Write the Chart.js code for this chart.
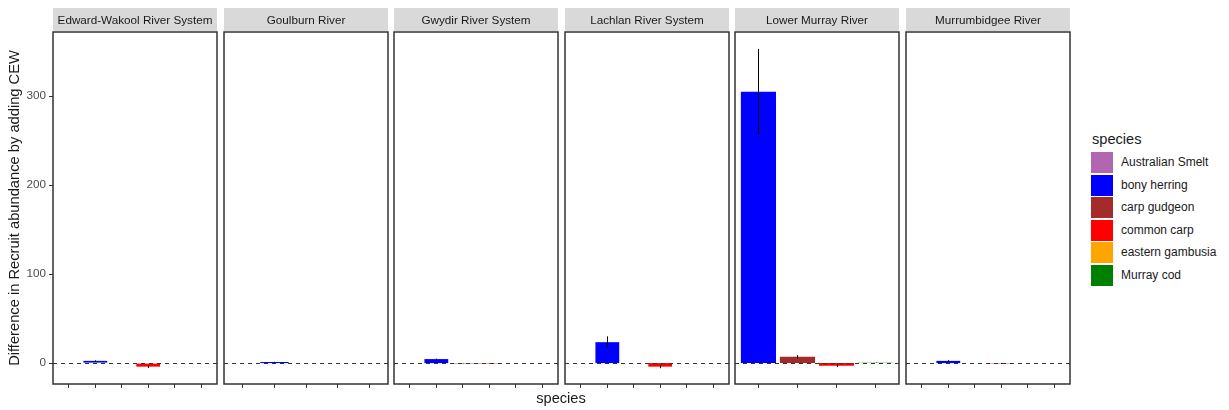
<!DOCTYPE html>
<html>
<head>
<meta charset="utf-8">
<script src="https://cdn.jsdelivr.net/npm/chart.js@4.4.1/dist/chart.umd.min.js"></script>
<style>
  body { margin: 0; background: #fff; font-family: "Liberation Sans", Arial, sans-serif; }
  #wrap { position: relative; width: 1229px; height: 410px; overflow: hidden; }
  canvas { position: absolute; top: 8px; }
  .xtitle { position: absolute; left: 461px; width: 200px; top: 390px; text-align: center; font-size: 14.6px; color: #1a1a1a; }
  .legtitle { position: absolute; left: 1092px; top: 131px; font-size: 14.6px; color: #1a1a1a; }
  .key { position: absolute; left: 1091px; width: 22px; height: 21px; }
  .keylab { position: absolute; left: 1121px; font-size: 12px; color: #1a1a1a; line-height: 21px; }
</style>
</head>
<body>
<div id="wrap"></div>
<script>
const rivers = ['Edward-Wakool River System', 'Goulburn River', 'Gwydir River System', 'Lachlan River System', 'Lower Murray River', 'Murrumbidgee River'];
const species = ['Australian Smelt', 'bony herring', 'carp gudgeon', 'common carp', 'eastern gambusia', 'Murray cod'];
const speciesColours = ['#b266b2', '#0000ff', '#a52a2a', '#ff0000', '#ffa500', '#008000'];

// species sampled in each river (index into species)
const riverSpecies = [
  [0, 1, 2, 3, 4, 5],
  [0, 1, 2, 3, 5],
  [0, 1, 2, 3, 4, 5],
  [0, 1, 2, 3, 4, 5],
  [1, 2, 3, 5],
  [0, 1, 2, 3, 4, 5]
];
// mean difference in recruit abundance with CEW
const riverValues = [
  [0, 2.5, 0, -4, 0, 0],
  [0, 1.2, 0, 0, 0],
  [0, 4.5, -0.4, -0.4, 0, 0],
  [0, 23.5, 0, -4, 0, 0],
  [305, 7, -3, 0.4],
  [0, 2.5, 0, -0.4, 0, 0]
];
// standard errors
const riverErrors = [
  [0, 0.6, 0, 1.5, 0, 0],
  [0, 0.3, 0, 0, 0],
  [0, 0.5, 0.2, 0.3, 0, 0],
  [0, 6.5, 0, 1.8, 0, 0],
  [48, 2, 1.5, 0.2],
  [0, 0.8, 0, 0.5, 0, 0]
];
const yTicks = [0, 100, 200, 300];

const panelLefts = [53, 224, 394, 565, 735, 906];
const panelW = 164;
const wrap = document.getElementById('wrap');

// grey facet strip + panel frame + zero line + error bars
const facetPlugin = {
  id: 'facet',
  beforeDraw(chart) {
    const a = chart.chartArea, c = chart.ctx;
    c.save();
    c.fillStyle = '#d9d9d9';
    c.fillRect(a.left, 0, a.right - a.left, a.top - 1);
    c.fillStyle = '#1a1a1a';
    c.font = '11.7px "Liberation Sans", Arial, sans-serif';
    c.textAlign = 'center';
    c.textBaseline = 'middle';
    c.fillText(chart.options.plugins.facet.label, (a.left + a.right) / 2, (a.top - 1) / 2 + 1);
    c.restore();
  },
  afterDatasetsDraw(chart) {
    const a = chart.chartArea, c = chart.ctx, y = chart.scales.y;
    const errs = chart.options.plugins.facet.errors;
    const ds = chart.data.datasets[0].data;
    c.save();
    c.strokeStyle = '#000';
    c.lineWidth = 1;
    chart.getDatasetMeta(0).data.forEach((bar, j) => {
      if (!errs[j]) return;
      c.beginPath();
      c.moveTo(Math.round(bar.x) + 0.5, y.getPixelForValue(ds[j].y - errs[j]));
      c.lineTo(Math.round(bar.x) + 0.5, y.getPixelForValue(ds[j].y + errs[j]));
      c.stroke();
    });
    const y0 = Math.round(y.getPixelForValue(0)) + 0.5;
    c.strokeStyle = '#333';
    c.setLineDash([4, 4]);
    c.beginPath();
    c.moveTo(a.left, y0);
    c.lineTo(a.right, y0);
    c.stroke();
    c.restore();
  },
  afterDraw(chart) {
    const a = chart.chartArea, c = chart.ctx;
    c.save();
    c.strokeStyle = '#333';
    c.lineWidth = 1.5;
    c.strokeRect(a.left, a.top, a.right - a.left, a.bottom - a.top);
    c.restore();
  }
};

rivers.forEach((river, i) => {
  const first = i === 0;
  const canvas = document.createElement('canvas');
  const left = first ? 0 : panelLefts[i] - 2;
  const width = first ? panelLefts[0] + panelW + 2 : panelW + 4;
  canvas.width = width;
  canvas.height = 388;
  canvas.style.left = left + 'px';
  canvas.style.width = width + 'px';
  canvas.style.height = '388px';
  wrap.appendChild(canvas);

  new Chart(canvas, {
    type: 'bar',
    data: {
      datasets: [{
        data: riverValues[i].map((v, j) => ({ x: j, y: v })),
        backgroundColor: riverSpecies[i].map(s => speciesColours[s]),
        borderWidth: 0,
        categoryPercentage: 1,
        barPercentage: 0.9
      }]
    },
    options: {
      responsive: false,
      animation: false,
      layout: { padding: { left: first ? 0 : 2, right: 2, top: 24, bottom: 0 } },
      plugins: {
        legend: { display: false },
        tooltip: { enabled: false },
        facet: { label: river, errors: riverErrors[i] }
      },
      scales: {
        x: {
          type: 'linear',
          // discrete axis padded by 0.6 of a category each side
          min: -0.6,
          max: riverSpecies[i].length - 0.4,
          bounds: 'data',
          offset: false,
          grid: { offset: false, drawOnChartArea: false, drawTicks: true, tickLength: 4, color: '#333', lineWidth: 1 },
          border: { display: false },
          ticks: { display: false },
          afterBuildTicks: s => { s.ticks = riverSpecies[i].map((sp, j) => ({ value: j })); },
          afterFit: s => { s.height = 12; }
        },
        y: {
          display: first,
          min: -23.5,
          max: 372,
          bounds: 'data',
          grid: { drawOnChartArea: false, drawTicks: true, tickLength: 4, color: '#333', lineWidth: 1 },
          border: { display: false },
          ticks: {
            padding: 3,
            color: '#4d4d4d',
            font: { family: '"Liberation Sans", Arial, sans-serif', size: 11.7 }
          },
          afterBuildTicks: s => { s.ticks = yTicks.map(v => ({ value: v })); },
          title: {
            display: true,
            text: 'Difference in Recruit abundance by adding CEW',
            color: '#1a1a1a',
            font: { family: '"Liberation Sans", Arial, sans-serif', size: 14.7 },
            padding: { top: 6, bottom: 0 }
          },
          afterFit: s => { if (first) s.width = panelLefts[0]; }
        }
      }
    },
    plugins: [facetPlugin]
  });
});

// axis title and species legend
const xt = document.createElement('div');
xt.className = 'xtitle';
xt.textContent = 'species';
wrap.appendChild(xt);

const lt = document.createElement('div');
lt.className = 'legtitle';
lt.textContent = 'species';
wrap.appendChild(lt);

species.forEach((s, k) => {
  const top = 152 + k * 22.6;
  const key = document.createElement('div');
  key.className = 'key';
  key.style.top = top + 'px';
  key.style.background = speciesColours[k];
  wrap.appendChild(key);
  const lab = document.createElement('div');
  lab.className = 'keylab';
  lab.style.top = top + 'px';
  lab.textContent = s;
  wrap.appendChild(lab);
});
</script>
</body>
</html>
